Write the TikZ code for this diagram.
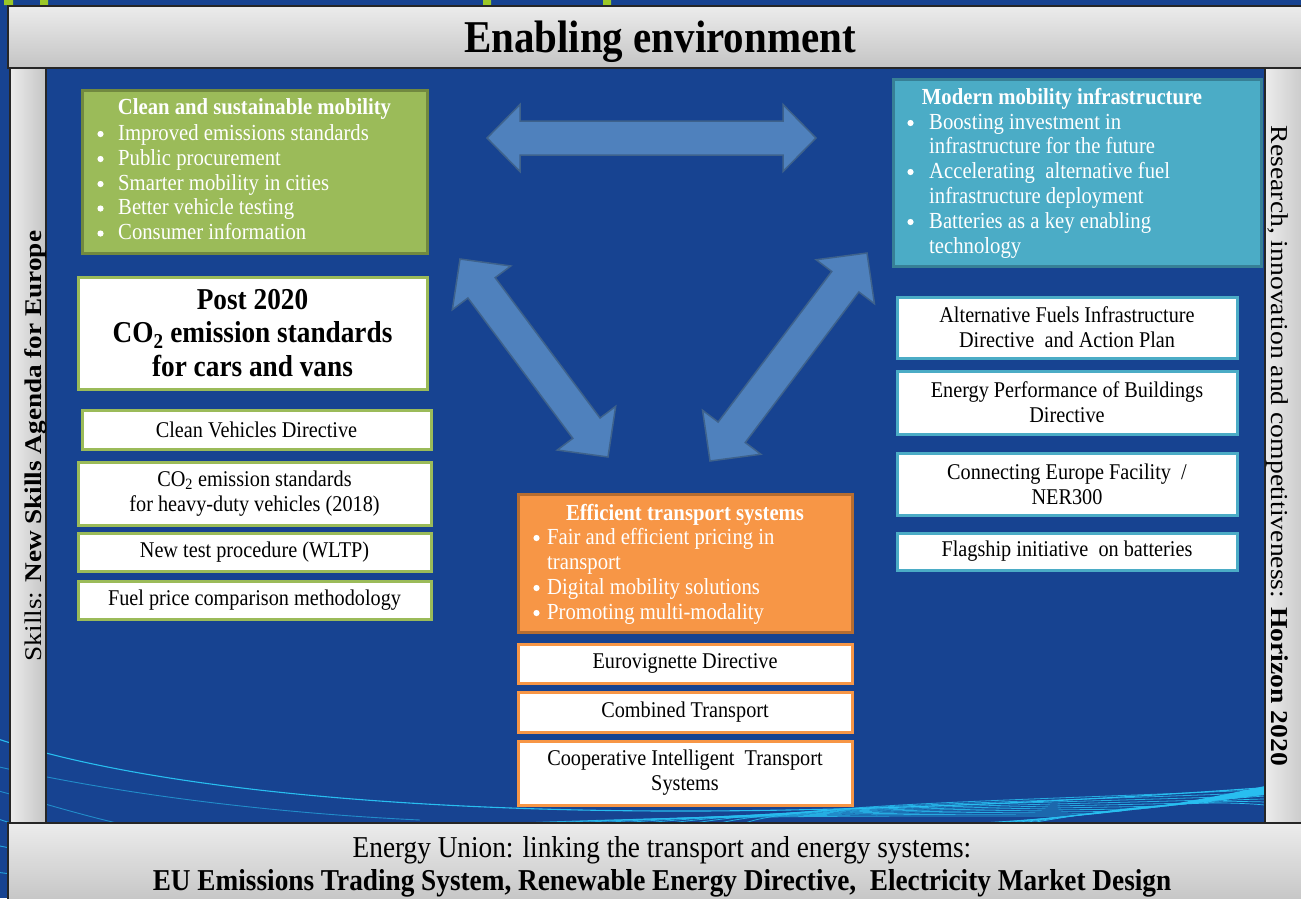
\documentclass[tikz,border=0pt]{standalone}
\usepackage{fontspec}
\setmainfont{Liberation Serif}[FakeStretch=0.9]
\newfontfamily\vfont{Liberation Serif}
\usetikzlibrary{calc}
\definecolor{bgblue}{RGB}{23,67,145}
\definecolor{arrfill}{RGB}{79,129,189}
\definecolor{arrline}{RGB}{62,98,140}
\definecolor{gfill}{RGB}{155,187,89}
\definecolor{gline}{RGB}{113,137,63}
\definecolor{tfill}{RGB}{75,172,198}
\definecolor{tline}{RGB}{55,128,150}
\definecolor{ofill}{RGB}{247,150,70}
\definecolor{oline}{RGB}{182,109,49}
\definecolor{wavec}{RGB}{40,190,240}
\definecolor{barlight}{RGB}{236,236,236}
\definecolor{bardark}{RGB}{196,196,196}
\definecolor{markgreen}{RGB}{155,200,40}
\newcommand\dbarrow[5]{%
  \path ($(#1)!#3pt!(#2)$) coordinate (P) ($(#2)!#3pt!(#1)$) coordinate (Q);
  \draw[arrowshape] (#1) -- ($(P)!#4pt!90:(#2)$) -- ($(P)!#5pt!90:(#2)$)
    -- ($(Q)!#5pt!-90:(#1)$) -- ($(Q)!#4pt!-90:(#1)$) -- (#2)
    -- ($(Q)!#4pt!90:(#1)$) -- ($(Q)!#5pt!90:(#1)$)
    -- ($(P)!#5pt!-90:(#2)$) -- ($(P)!#4pt!-90:(#2)$) -- cycle;}
\tikzset{
  arrowshape/.style={fill=arrfill, draw=arrline, line width=1.5, line join=miter},
  wave/.style={draw=wavec, line width=0.9},
  body/.style={font=\fontsize{22.5}{25}\selectfont},
  wbox/.style={draw=#1, line width=3, fill=white, align=center, inner sep=0pt, body},
  cbox/.style={draw=#1, line width=3, inner sep=0pt},
  btitle/.style={font=\fontsize{23}{25}\selectfont\bfseries, text=white, anchor=base, inner sep=0pt, text height=17, text depth=5},
  bline/.style={font=\fontsize{23}{25}\selectfont, text=white, anchor=base west, inner sep=0pt, text height=17, text depth=5},
  bar/.style={draw=black!85, line width=1.3},
  dot/.style={fill=white},
}
\begin{document}
\begin{tikzpicture}[x=1pt,y=-1pt]
\useasboundingbox (0,0) rectangle (1301,898);
\fill[bgblue] (0,0) rectangle (1301,898);
% green marks at the top edge
\fill[markgreen] (4,0) rectangle (13,5) (40,0) rectangle (48,5) (483,0) rectangle (491,5) (603,0) rectangle (611,5);
% decorative waves
\begin{scope}
\clip (0,0) rectangle (1301,898);
\draw[wave, line width=1.1] (-5,738) .. controls (150,790) and (420,812) .. (700,811) .. controls (900,810) and (1100,800) .. (1301,785);
\draw[wave, opacity=0.6] (-5,766) .. controls (100,790) and (250,812) .. (420,820);
\draw[wave, opacity=0.6] (-5,790) .. controls (40,802) and (80,815) .. (130,826);
\draw[wave, opacity=0.8] (-5,818) -- (20,826);
\draw[wave, opacity=0.8] (-5,845) -- (20,850);
\draw[wave, opacity=0.8] (-5,872) -- (20,875);
\foreach \i in {0,...,9} {
  \draw[wave, line width=0.8, opacity=0.85] (520+25*\i,823) .. controls (800,812-\i) and (1050,818-2*\i) .. (1301,815-3*\i);
}
\fill[wavec] (1020,823) .. controls (1120,815) and (1200,800) .. (1265,786) -- (1265,823) -- cycle;
\fill[bgblue] (960,823) .. controls (1080,818) and (1180,805) .. (1265,795) -- (1265,823) -- cycle;
\foreach \i in {0,...,5} {
  \draw[wave, line width=0.7] (980+10*\i,823) .. controls (1100,816-\i) and (1190,803-\i) .. (1265,790+3*\i);
}
\end{scope}
% frame bars
\shade[top color=barlight, bottom color=bardark] (8,6) rectangle (1310,68);
\draw[bar] (8,6) rectangle (1310,68);
\shade[left color=barlight, right color=bardark] (10,68) rectangle (46,823);
\draw[bar] (10,68) rectangle (46,823);
\shade[left color=barlight, right color=bardark] (1265,68) rectangle (1310,823);
\draw[bar] (1265,68) rectangle (1310,823);
\shade[top color=barlight, bottom color=bardark] (8,823) rectangle (1310,905);
\draw[bar] (8,823) rectangle (1310,905);
\node[font=\fontsize{45.5}{48}\selectfont\bfseries, anchor=base, inner sep=0pt] (title) at (660,52) {Enabling environment};
\node[font=\vfont\fontsize{27.2}{30}\selectfont, rotate=90, anchor=base, inner sep=0pt] (skills) at (41,446) {\scalebox{1}[0.88]{Skills: \textbf{New Skills Agenda for Europe}}};
\node[font=\vfont\fontsize{27.6}{30}\selectfont, rotate=-90, anchor=base, inner sep=0pt] (research) at (1271,446) {\scalebox{1}[0.88]{Research, innovation and competitiveness: \textbf{Horizon 2020}}};
\node[font=\fontsize{30.3}{32}\selectfont, anchor=base, inner sep=0pt] (eu1) at (662,857) {Energy Union: linking the transport and energy systems:};
\node[font=\fontsize{30.3}{32}\selectfont\bfseries, anchor=base, inner sep=0pt] (eu2) at (662,890) {EU Emissions Trading System, Renewable Energy Directive,\ \ Electricity Market Design};
% arrows
\coordinate (h1) at (487,138);
\coordinate (h2) at (816,138);
\coordinate (l1) at (460,259);
\coordinate (l2) at (608,457);
\coordinate (r1) at (867,253);
\coordinate (r2) at (710,461);
\dbarrow{h1}{h2}{33}{33.5}{17}
\dbarrow{l1}{l2}{36}{36.5}{17}
\dbarrow{r1}{r2}{36}{36.5}{17}
% green column
\node[cbox=gline, fill=gfill, minimum width=345, minimum height=163] (green) at (254.5,171.5) {};
\node[btitle] (gt) at (254.5,114) {Clean and sustainable mobility};
\node[bline] (g1) at (118,140) {Improved emissions standards};
\node[bline] (g2) at (118,165) {Public procurement};
\node[bline] (g3) at (118,190) {Smarter mobility in cities};
\node[bline] (g4) at (118,214.5) {Better vehicle testing};
\node[bline] (g5) at (118,239.5) {Consumer information};
\foreach \y in {140,165,190,214.5,239.5} \fill[dot] (100.5,\y-6) circle (3.1);
\node[wbox=gfill, minimum width=349, minimum height=112, font=\fontsize{30.3}{33.5}\selectfont\bfseries] (post) at (252.5,333) {Post 2020\\CO\textsubscript{2} emission standards\\for cars and vans};
\node[wbox=gfill, minimum width=349, minimum height=39] (cvd) at (256.5,429.5) {Clean Vehicles Directive};
\node[wbox=gfill, minimum width=353, minimum height=63] (hdv) at (254.5,493.5) {CO\textsubscript{2} emission standards\\for heavy-duty vehicles (2018)};
\node[wbox=gfill, minimum width=353, minimum height=38] (wltp) at (254.5,552) {New test procedure (WLTP)};
\node[wbox=gfill, minimum width=353, minimum height=38] (fuel) at (254.5,600) {Fuel price comparison methodology};
% teal column
\node[cbox=tline, fill=tfill, minimum width=368, minimum height=187] (teal) at (1077,172.5) {};
\node[btitle] (tt) at (1062,104) {Modern mobility infrastructure};
\node[bline] (t1) at (929,129) {Boosting investment in};
\node[bline] (t2) at (929,153) {infrastructure for the future};
\node[bline] (t3) at (929,178) {Accelerating\ \ alternative fuel};
\node[bline] (t4) at (929,203) {infrastructure deployment};
\node[bline] (t5) at (929,228) {Batteries as a key enabling};
\node[bline] (t6) at (929,253) {technology};
\foreach \y in {129,178,228} \fill[dot] (910.5,\y-6) circle (3.1);
\node[wbox=tfill, minimum width=340, minimum height=61] (afid) at (1067,327.5) {Alternative Fuels Infrastructure\\Directive\ \ and Action Plan};
\node[wbox=tfill, minimum width=340, minimum height=63] (epbd) at (1067,402.5) {Energy Performance of Buildings\\Directive};
\node[wbox=tfill, minimum width=340, minimum height=62] (cef) at (1067,484) {Connecting Europe Facility\ \ /\\NER300};
\node[wbox=tfill, minimum width=340, minimum height=37] (flag) at (1067,551.5) {Flagship initiative\ \ on batteries};
% orange column
\node[cbox=oline, fill=ofill, minimum width=334, minimum height=138] (orange) at (685,563) {};
\node[btitle] (ot) at (685,520) {Efficient transport systems};
\node[bline] (o1) at (547,544) {Fair and efficient pricing in};
\node[bline] (o2) at (547,569) {transport};
\node[bline] (o3) at (547,594) {Digital mobility solutions};
\node[bline] (o4) at (547,619) {Promoting multi-modality};
\foreach \y in {544,594,619} \fill[dot] (536.5,\y-6) circle (3.1);
\node[wbox=ofill, minimum width=334, minimum height=39] (euro) at (685,663.5) {Eurovignette Directive};
\node[wbox=ofill, minimum width=334, minimum height=40] (comb) at (685,712) {Combined Transport};
\node[wbox=ofill, minimum width=334, minimum height=64] (coop) at (685,773) {Cooperative Intelligent\ \ Transport\\Systems};
\end{tikzpicture}
\end{document}
